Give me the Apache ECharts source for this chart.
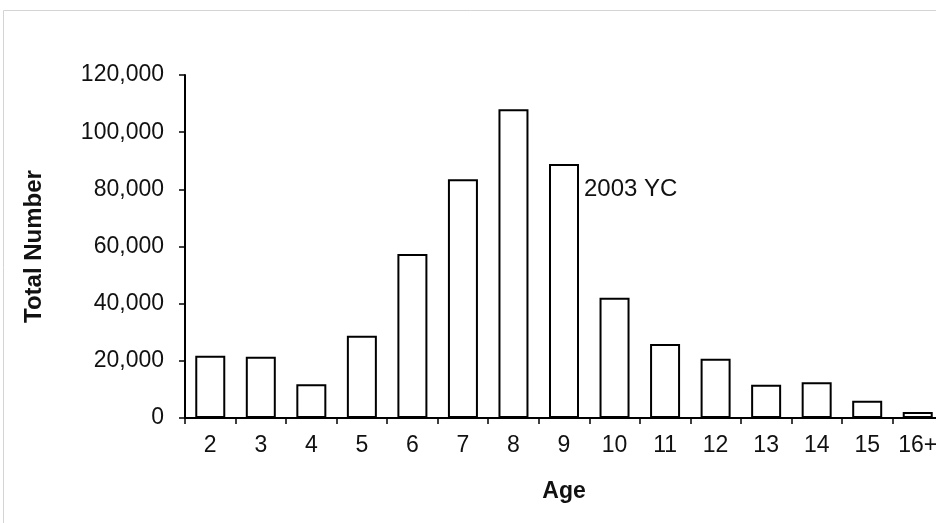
<!DOCTYPE html>
<html>
<head>
<meta charset="utf-8">
<script src="https://cdn.jsdelivr.net/npm/echarts@6/dist/echarts.min.js"></script>
<style>
html,body{margin:0;padding:0;background:#fff;}
#chart{width:936px;height:523px;}
</style>
</head>
<body>
<div id="chart"></div>
<script>
const categories = ['2','3','4','5','6','7','8','9','10','11','12','13','14','15','16+'];
const totals = [21800, 21400, 11800, 28800, 57400, 83500, 108000, 88900, 42100, 25900, 20700, 11600, 12500, 6000, 2100];
const yTicks = [0, 20000, 40000, 60000, 80000, 100000, 120000];
const annotationIndex = 7;
const annotationText = '2003 YC';

const font = 'Liberation Sans, Arial, sans-serif';
const chart = echarts.init(document.getElementById('chart'));

const seriesData = totals.map((v, i) => {
  if (i === annotationIndex) {
    return {
      value: v,
      label: {
        show: true,
        formatter: annotationText,
        position: [35, 25],
        verticalAlign: 'middle',
        align: 'left',
        color: '#111',
        fontSize: 24,
        fontFamily: font
      }
    };
  }
  return v;
});

chart.setOption({
  backgroundColor: '#ffffff',
  animation: false,
  graphic: [{
    type: 'rect',
    shape: { x: 3.5, y: 10.5, width: 940, height: 520 },
    style: { fill: 'none', stroke: '#d4d4d4', lineWidth: 1 },
    silent: true
  }],
  grid: { left: 185, top: 75, width: 758, bottom: 105, outerBoundsMode: 'none', containLabel: false },
  xAxis: {
    type: 'category',
    data: categories,
    name: 'Age',
    nameLocation: 'middle',
    nameGap: 62,
    nameTextStyle: { fontSize: 23, fontWeight: 'bold', color: '#111', fontFamily: font },
    axisLine: { lineStyle: { color: '#000', width: 2 } },
    axisTick: { show: true, length: 6, lineStyle: { color: '#000', width: 1.5 }, alignWithLabel: false },
    axisLabel: { fontSize: 23, color: '#111', margin: 16, fontFamily: font, interval: 0 },
    splitLine: { show: false }
  },
  yAxis: {
    type: 'value',
    min: 0,
    max: 120000,
    interval: 20000,
    name: 'Total Number',
    nameLocation: 'middle',
    nameGap: 139,
    nameRotate: 90,
    nameTextStyle: { fontSize: 24, fontWeight: 'bold', color: '#111', fontFamily: font },
    axisLine: { show: true, lineStyle: { color: '#000', width: 2 } },
    axisTick: { show: true, length: 6, inside: false, lineStyle: { color: '#000', width: 1.5 } },
    axisLabel: {
      fontSize: 23, color: '#111', margin: 21, fontFamily: font,
      customValues: yTicks,
      formatter: v => v.toLocaleString('en-US')
    },
    splitLine: { show: false }
  },
  series: [{
    type: 'bar',
    data: seriesData,
    barWidth: 30,
    itemStyle: { color: '#ffffff', borderColor: '#000', borderWidth: 2 },
    label: { show: false }
  }]
});
</script>
</body>
</html>
